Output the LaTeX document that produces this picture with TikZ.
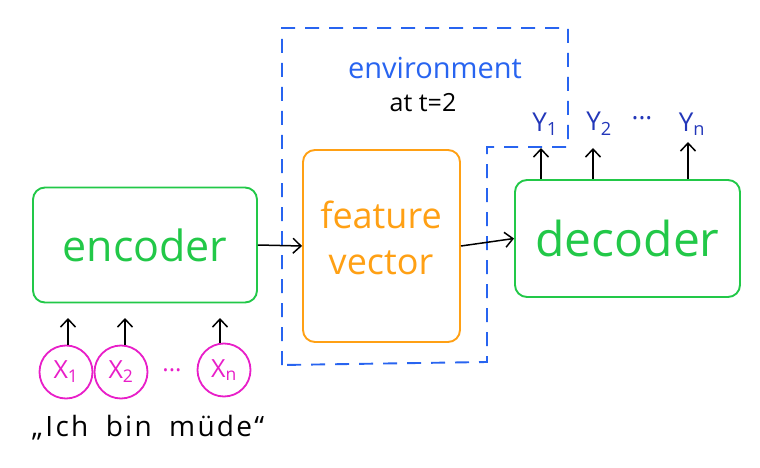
\documentclass[tikz,border=0pt]{standalone}
\usepackage{fontspec}
\setmainfont{Open Sans}
\usetikzlibrary{arrows.meta}
\definecolor{grn}{RGB}{34,200,72}
\definecolor{org}{RGB}{255,160,20}
\definecolor{mag}{RGB}{232,30,200}
\definecolor{envblue}{RGB}{40,100,240}
\definecolor{ydark}{RGB}{35,55,185}
\tikzset{
  box/.style={draw, line width=1.9pt, rounded corners=12pt, inner sep=0pt},
  conn/.style={draw=black, line width=1.5pt, -{Straight Barb[length=8pt,width=15pt]}},
  envline/.style={draw=envblue, line width=1.9pt, dash pattern=on 14pt off 10pt},
  xin/.style={draw=mag, circle, line width=1.8pt, minimum size=53pt, inner sep=0pt, text=mag, font=\fontsize{25}{28}\selectfont},
  ylab/.style={text=ydark, font=\fontsize{26}{30}\selectfont, inner sep=1pt}
}
\begin{document}
\begin{tikzpicture}[x=1pt,y=-1pt]
\useasboundingbox (0,0) rectangle (760,468);
% environment outline
\draw[envline] (282,365) -- (282,28) -- (568,28) -- (568,147) -- (487,147) -- (487,362) -- cycle;
\node[text=envblue, font=\fontsize{29}{32}\selectfont] (env) at (435,68) {environment};
\node[text=black, font=\fontsize{25}{28}\selectfont] (att) at (423,103) {at t=2};
% boxes
\node[box, draw=grn, minimum width=224pt, minimum height=115pt, text=grn, font=\fontsize{43}{48}\selectfont] (enc) at (145,245) {encoder};
\node[box, draw=org, minimum width=157pt, minimum height=192pt] (fv) at (381.5,246) {};
\node[text=org, font=\fontsize{36}{46}\selectfont, align=center] (fvt) at (381,238) {feature\\vector};
\node[box, draw=grn, minimum width=225pt, minimum height=117pt, text=grn, font=\fontsize{48}{54}\selectfont] (dec) at (627.5,238.5) {decoder};
% connectors
\draw[conn] (enc.east) -- (fv.west);
\draw[conn] (fv.east) -- (dec.west);
% inputs
\node[xin] (x1) at (66,372) {X\textsubscript{1}};
\node[xin] (x2) at (121,372) {X\textsubscript{2}};
\node[xin] (xn) at (224,370) {X\textsubscript{n}};
\node[text=mag, font=\fontsize{24}{28}\selectfont] (xdots) at (172,370) {...};
\coordinate (e1) at (68,318);
\coordinate (e2) at (125,318);
\coordinate (en) at (220,318);
\draw[conn] (x1.north -| e1) -- (e1);
\draw[conn] (x2.north -| e2) -- (e2);
\draw[conn] (xn.north -| en) -- (en);
\node[font=\fontsize{28}{32}\selectfont\addfontfeature{LetterSpace=8}] (quote) at (148,428) {„Ich\hspace{8pt} bin\hspace{8pt} müde“};
% outputs
\node[ylab] (y1) at (545,124) {Y\textsubscript{1}};
\node[ylab] (y2) at (599,124) {Y\textsubscript{2}};
\node[text=ydark, font=\fontsize{26}{30}\selectfont] (ydots) at (642,118) {...};
\node[ylab] (yn) at (692,124) {Y\textsubscript{n}};
\coordinate (d1) at (541,179);
\coordinate (d2) at (593,179);
\coordinate (dn) at (688,179);
\draw[conn] (d1) -- (541,148);
\draw[conn] (d2) -- (593,148);
\draw[conn] (dn) -- (688,142);
\end{tikzpicture}
\end{document}
